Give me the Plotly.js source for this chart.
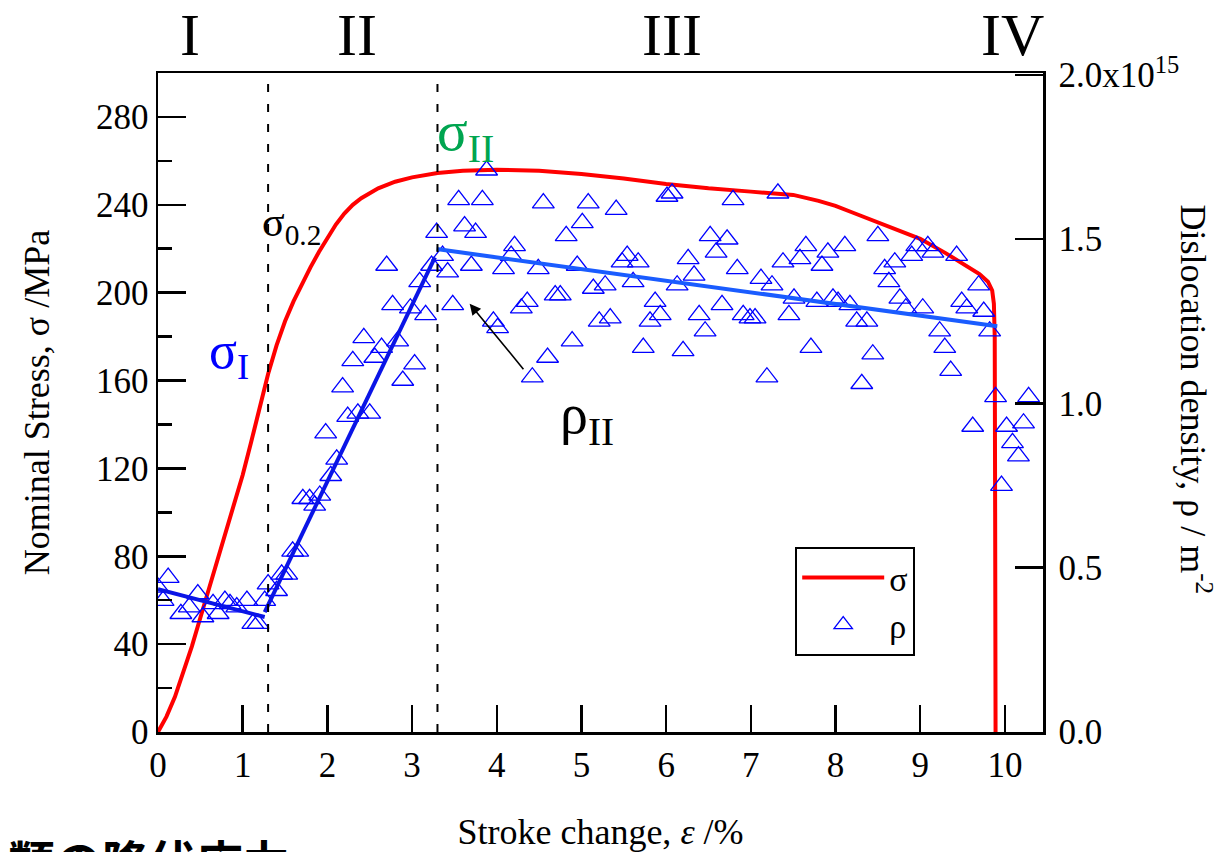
<!DOCTYPE html>
<html>
<head>
<meta charset="utf-8">
<script src="https://cdn.plot.ly/plotly-3.0.1.min.js"></script>
<style>
  html, body { margin: 0; padding: 0; background: #fff; }
  #chart { width: 1224px; height: 852px; }
</style>
</head>
<body>
<div id="chart"></div>
<script>
// Nominal stress–stroke curve (MPa vs %)
const strain = [0, 0.1, 0.2, 0.3, 0.4, 0.5, 0.6, 0.7, 0.8, 0.9, 1.0, 1.1, 1.2, 1.3, 1.4, 1.5, 1.6, 1.7, 1.8, 1.9,
  2.0, 2.1, 2.2, 2.3, 2.4, 2.6, 2.8, 3.0, 3.3, 3.6, 4.0, 4.5, 5.0, 5.5, 6.0, 6.5, 7.0, 7.5, 7.8, 8.0, 8.2, 8.5, 8.8, 9.0, 9.3,
  9.5, 9.7, 9.8, 9.85, 9.87, 9.88, 9.885, 9.89];
const stress = [0, 7, 16, 27, 39, 52, 65, 78, 91, 104, 117, 132, 148, 163, 176, 187, 196, 204, 211.5, 218.5,
  225, 231, 236, 240, 243, 247.5, 250.5, 252.5, 254.5, 255.5, 256, 255.5, 254, 252, 249.5, 247.5, 246, 244.5, 241.8, 239.5, 236.5, 232, 227.5, 224.5, 218,
  213.5, 208.5, 205, 201, 195, 180, 100, 0];

// Dislocation density measurements (x10^15 m^-2)
const rhoStrain = [
  0.00, 0.06, 0.12, 0.27, 0.37, 0.47, 0.53, 0.65, 0.71, 0.79, 0.85, 0.93, 1.05, 1.12, 1.18, 1.26, 1.30,
  1.40, 1.46, 1.52, 1.59, 1.65, 1.71, 1.79, 1.85, 1.91, 1.98, 2.04, 2.11, 2.18, 2.24, 2.30, 2.36, 2.43, 2.50,
  2.56, 2.64, 2.70, 2.77, 2.83, 2.89, 2.98, 3.03, 3.09, 3.16, 3.23,
  3.29, 3.36, 3.42, 3.48, 3.55, 3.62, 3.70, 3.75, 3.83, 3.88, 3.96, 4.01, 4.08, 4.17, 4.21, 4.29, 4.36, 4.42,
  4.49, 4.55, 4.60, 4.69, 4.75, 4.82, 4.89, 4.95, 5.01, 5.08, 5.14, 5.21, 5.28, 5.34, 5.41, 5.48, 5.54, 5.61,
  5.67, 5.73, 5.81, 5.87, 5.93, 6.01, 6.07, 6.13, 6.20, 6.26, 6.33, 6.39, 6.46, 6.52, 6.59, 6.66, 6.72, 6.79,
  6.84, 6.91, 6.99, 7.05, 7.12, 7.19, 7.25, 7.32, 7.38, 7.45, 7.51, 7.58, 7.65, 7.71, 7.78, 7.84, 7.91, 7.97,
  8.03, 8.11, 8.17, 8.25, 8.31, 8.37, 8.44, 8.50, 8.58, 8.63, 8.70, 8.76, 8.83, 8.90, 8.96, 9.03, 9.09, 9.15,
  9.23, 9.29, 9.36, 9.43, 9.49, 9.55, 9.62, 9.69, 9.75, 9.82, 9.89, 9.96, 10.02, 10.09, 10.16, 10.22, 10.28];
const rhoValue = [
  0.44, 0.40, 0.47, 0.36, 0.38, 0.42, 0.35, 0.39, 0.36, 0.40, 0.39, 0.38, 0.40, 0.33, 0.33, 0.40, 0.45,
  0.43, 0.48, 0.48, 0.55, 0.55, 0.71, 0.71, 0.69, 0.72, 0.91, 0.78, 0.83, 1.05, 0.96, 1.13, 0.97, 1.20, 0.97,
  1.14, 1.17, 1.42, 1.30, 1.19, 1.07, 1.29, 1.12, 1.37, 1.27, 1.42,
  1.52, 1.45, 1.40, 1.30, 1.62, 1.54, 1.42, 1.52, 1.62, 1.71, 1.25, 1.23, 1.41, 1.45, 1.48, 1.29, 1.31, 1.08,
  1.41, 1.61, 1.14, 1.33, 1.33, 1.51, 1.19, 1.42, 1.55, 1.61, 1.35, 1.25, 1.36, 1.26, 1.59, 1.43, 1.45, 1.37,
  1.43, 1.17, 1.25, 1.31, 1.27, 1.63, 1.64, 1.36, 1.16, 1.44, 1.39, 1.27, 1.22, 1.51, 1.46, 1.30, 1.50, 1.62,
  1.41, 1.27, 1.26, 1.26, 1.38, 1.08, 1.36, 1.64, 1.43, 1.27, 1.32, 1.44, 1.48, 1.17, 1.31, 1.42, 1.46, 1.32,
  1.31, 1.48, 1.30, 1.25, 1.06, 1.25, 1.15, 1.51, 1.41, 1.37, 1.43, 1.32, 1.29, 1.45, 1.48, 1.29, 1.48, 1.46,
  1.22, 1.17, 1.10, 1.45, 1.31, 1.29, 0.93, 1.36, 1.28, 1.22, 1.02, 0.75, 0.93, 0.88, 0.84, 0.94, 1.02];

// Linear fits of the density in stages I, II and III
const fitIStrain = [0, 1.26];
const fitIRho = [0.435, 0.35];
const fitIIStrain = [1.26, 3.27];
const fitIIRho = [0.365, 1.445];
const fitIIIStrain = [3.29, 9.91];
const fitIIIRho = [1.47, 1.235];

// Stage boundaries and stage labels
const stageBounds = [1.3, 3.3];
const stageNames = ['I', 'II', 'III', 'IV'];
const stageLabelX = [0.38, 2.35, 6.07, 10.09];

const rhoTickVals = [0, 0.5, 1.0, 1.5, 2.0];
const rhoTickText = ['0.0', '0.5', '1.0', '1.5', '2.0x10<sup>15</sup>'];

const serif = 'Liberation Serif, Times New Roman, serif';

const traces = [
  {
    x: strain, y: stress, type: 'scatter', mode: 'lines', name: 'σ',
    line: { color: '#ff0000', width: 4 }, yaxis: 'y'
  },
  {
    x: rhoStrain, y: rhoValue, type: 'scatter', mode: 'markers', name: 'ρ', yaxis: 'y2',
    marker: { symbol: 'triangle-up-open', size: 19, color: '#0000ff', line: { width: 1.3, color: '#0000ff' } }
  },
  {
    x: fitIStrain, y: fitIRho, type: 'scatter', mode: 'lines', yaxis: 'y2', showlegend: false,
    line: { color: '#0a14e6', width: 4 }
  },
  {
    x: fitIIStrain, y: fitIIRho, type: 'scatter', mode: 'lines', yaxis: 'y2', showlegend: false,
    line: { color: '#0a14e6', width: 4 }
  },
  {
    x: fitIIIStrain, y: fitIIIRho, type: 'scatter', mode: 'lines', yaxis: 'y2', showlegend: false,
    line: { color: '#1a5cff', width: 4 }
  }
];

const shapes = stageBounds.map(v => ({
  type: 'line', xref: 'x', yref: 'paper', x0: v, x1: v, y0: 0, y1: 1,
  line: { color: '#000', width: 2, dash: '8px,12px' }, layer: 'above'
}));

const annotations = [];
stageNames.forEach((s, i) => {
  annotations.push({
    text: s, xref: 'x', yref: 'paper', x: stageLabelX[i], y: 1.058,
    showarrow: false, font: { family: serif, size: 60, color: '#000' }, xanchor: 'center', yanchor: 'middle'
  });
});
annotations.push(
  { text: 'σ<sub>0.2</sub>', xref: 'x', yref: 'y', x: 1.2, y: 231, xanchor: 'left', yanchor: 'middle',
    showarrow: false, font: { family: serif, size: 42, color: '#000' } },
  { text: 'σ<sub>I</sub>', xref: 'x', yref: 'y', x: 0.58, y: 172, xanchor: 'left', yanchor: 'middle',
    showarrow: false, font: { family: serif, size: 52, color: '#0000ff' } },
  { text: 'σ<sub>II</sub>', xref: 'x', yref: 'y', x: 3.27, y: 272, xanchor: 'left', yanchor: 'middle',
    showarrow: false, font: { family: serif, size: 57, color: '#00a550' } },
  { text: 'ρ<sub>II</sub>', xref: 'x', yref: 'y', x: 4.72, y: 143, xanchor: 'left', yanchor: 'middle',
    showarrow: false, font: { family: serif, size: 56, color: '#000' } },
  { text: '', xref: 'x', yref: 'y', x: 3.68, y: 195, ax: 55, ay: 67, showarrow: true,
    arrowhead: 2, arrowsize: 1.4, arrowwidth: 1.6, arrowcolor: '#000' },
  { text: 'Dislocation density, ρ / m<sup>-2</sup>', xref: 'paper', yref: 'paper', x: 1.1725, y: 0.505,
    textangle: 90, showarrow: false, xanchor: 'center', yanchor: 'middle',
    font: { family: serif, size: 36, color: '#000' } },
  { text: '類の降伏応力', xref: 'paper', yref: 'paper', x: -0.172, y: -0.194, xanchor: 'left', yanchor: 'middle',
    showarrow: false, font: { family: 'Noto Sans CJK JP', size: 47, color: '#000', weight: 700 } }
);

const layout = {
  width: 1224, height: 852,
  margin: { l: 158, r: 181, t: 73, b: 120 },
  paper_bgcolor: '#fff', plot_bgcolor: '#fff',
  font: { family: serif, color: '#000' },
  showlegend: true,
  legend: {
    x: 0.72, y: 0.281, xanchor: 'left', yanchor: 'top',
    bordercolor: '#000', borderwidth: 2, bgcolor: '#fff',
    font: { family: serif, size: 34, color: '#000' }, itemwidth: 82
  },
  xaxis: {
    range: [0, 10.45], dtick: 1, tick0: 0,
    showline: true, linecolor: '#000', linewidth: 2.5, mirror: true,
    ticks: 'inside', ticklen: 27, tickwidth: 2.5, tickcolor: '#000',
    showgrid: false, zeroline: false,
    tickfont: { family: serif, size: 35, color: '#000' },
    title: { text: 'Stroke change, <i>ε</i> /%', font: { family: serif, size: 36, color: '#000' }, standoff: 36 }
  },
  yaxis: {
    range: [0, 300], dtick: 40, tick0: 0,
    showline: true, linecolor: '#000', linewidth: 2.5,
    ticks: 'inside', ticklen: 28, tickwidth: 2.5, tickcolor: '#000',
    minor: { ticks: 'inside', dtick: 20, ticklen: 14, tickwidth: 2.5, tickcolor: '#000' },
    showgrid: false, zeroline: false,
    tickfont: { family: serif, size: 35, color: '#000' },
    title: { text: 'Nominal Stress, σ /MPa', font: { family: serif, size: 36, color: '#000' }, standoff: 36 }
  },
  yaxis2: {
    overlaying: 'y', side: 'right', range: [0, 2.006],
    tickvals: rhoTickVals, ticktext: rhoTickText,
    showline: true, linecolor: '#000', linewidth: 2.5,
    ticks: 'inside', ticklen: 28, tickwidth: 2.5, tickcolor: '#000',
    showgrid: false, zeroline: false, ticklabelstandoff: 6,
    tickfont: { family: serif, size: 35, color: '#000' }
  },
  shapes: shapes,
  annotations: annotations
};

Plotly.newPlot('chart', traces, layout, { displayModeBar: false, staticPlot: true });
</script>
</body>
</html>
